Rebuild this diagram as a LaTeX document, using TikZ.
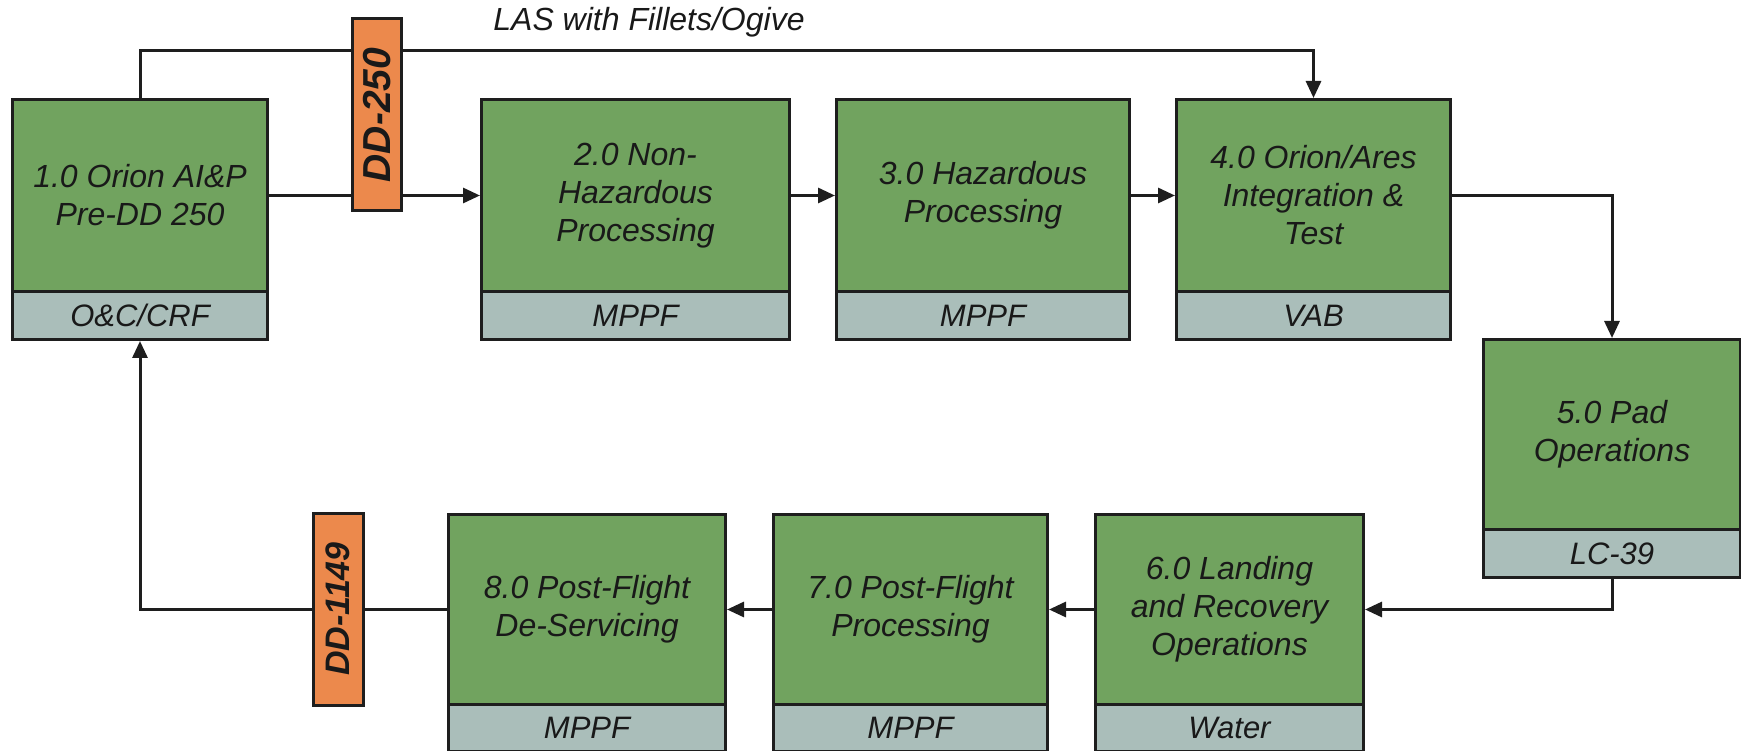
\documentclass[tikz,border=0pt]{standalone}
\usepackage{fontspec}
\setmainfont{Liberation Sans}
\usetikzlibrary{arrows.meta}
\definecolor{boxgreen}{RGB}{113,163,95}
\definecolor{boxgray}{RGB}{170,190,186}
\definecolor{ddorange}{RGB}{236,137,76}
\definecolor{edge}{RGB}{30,30,30}
\tikzset{
  procmain/.style={draw=edge, fill=boxgreen, line width=3pt, inner sep=0pt, align=center,
    font=\itshape\fontsize{32}{38}\selectfont, text=black!90},
  proclocn/.style={draw=edge, fill=boxgray, line width=3pt, inner sep=0pt, align=center,
    font=\itshape\fontsize{31}{36}\selectfont, text=black!90},
  ddtag/.style={draw=edge, fill=ddorange, line width=3pt, inner sep=0pt, rotate=90,
    text=black!90},
  flow/.style={draw=edge, line width=3pt, -{Triangle[length=17pt,width=15pt]}},
  plainflow/.style={draw=edge, line width=3pt}
}
% name, x1, y1, x2, ygray, ybottom, text, location
\newcommand\procbox[8]{%
  \node[procmain, anchor=north west, minimum width={(#4-#2)*1pt}, minimum height={(#5-#3)*1pt}]
    (#1) at (#2,#3) {#7};
  \node[proclocn, anchor=north west, minimum width={(#4-#2)*1pt}, minimum height={(#6-#5)*1pt}]
    (#1l) at (#2,#5) {#8};
}
\begin{document}
\begin{tikzpicture}[x=1pt,y=-1pt]
\useasboundingbox (0,0) rectangle (1741,751);
\fill[white] (0,0) rectangle (1741,751);

\procbox{b1}{11}{98}{266}{290}{338}{1.0 Orion AI\&P\\Pre-DD 250}{O\&C/CRF}
\procbox{b2}{480}{98}{788}{290}{338}{2.0 Non-\\Hazardous\\Processing}{MPPF}
\procbox{b3}{835}{98}{1128}{290}{338}{3.0 Hazardous\\Processing}{MPPF}
\procbox{b4}{1175}{98}{1449}{290}{338}{4.0 Orion/Ares\\Integration \&\\Test}{VAB}
\procbox{b5}{1482}{338}{1739}{528}{576}{5.0 Pad\\Operations}{LC-39}
\procbox{b6}{1094}{513}{1362}{703}{750}{6.0 Landing\\and Recovery\\Operations}{Water}
\procbox{b7}{772}{513}{1046}{703}{750}{7.0 Post-Flight\\Processing}{MPPF}
\procbox{b8}{447}{513}{724}{703}{750}{8.0 Post-Flight\\De-Servicing}{MPPF}

\coordinate (topy) at (0,51);

% connectors
\draw[flow] (b1.east) -- (b2.west);
\draw[flow] (b2.east) -- (b3.west);
\draw[flow] (b3.east) -- (b4.west);
\draw[flow] (b4.east) -| (b5.north);
\draw[flow] (b5l.south) |- (b6.east);
\draw[flow] (b6.west) -- (b7.east);
\draw[flow] (b7.west) -- (b8.east);
\draw[flow] (b8.west) -| (b1l.south);
\draw[flow] (b1.north) |- (topy -| b4.north) -- (b4.north);

\node[font=\itshape\fontsize{32}{36}\selectfont, text=black!90] (las) at (649,22) {LAS with Fillets/Ogive};

\node[ddtag, minimum width=192pt, minimum height=49pt, font=\bfseries\itshape\fontsize{39}{42}\selectfont] (dd250) at (377,115) {DD-250};
\node[ddtag, minimum width=192pt, minimum height=50pt, font=\bfseries\itshape\fontsize{34}{40}\selectfont] (dd1149) at (338,609) {DD-1149};
\end{tikzpicture}
\end{document}
